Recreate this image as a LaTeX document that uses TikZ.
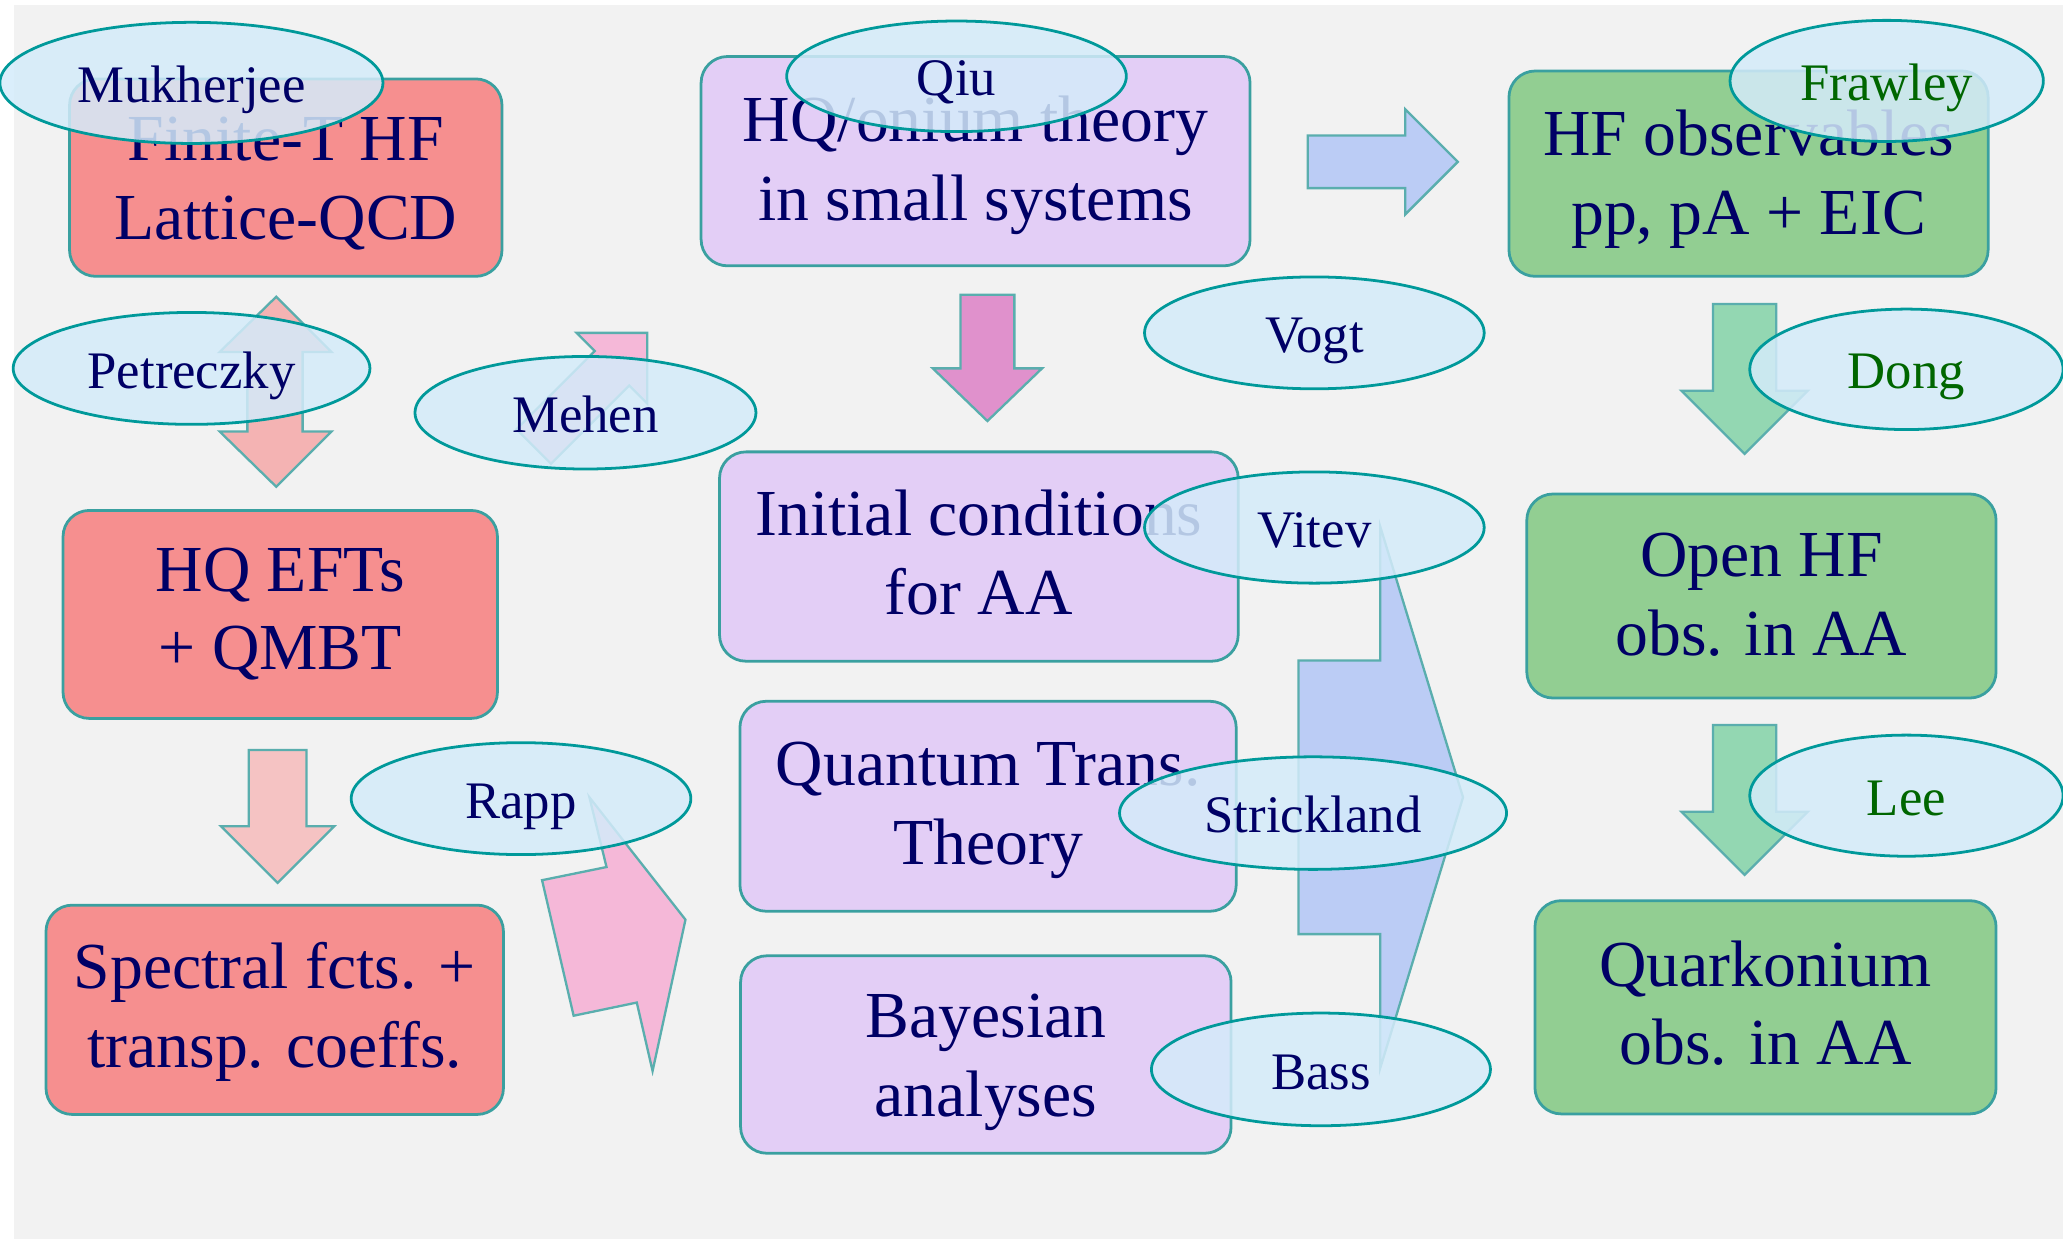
\documentclass[tikz,border=0pt]{standalone}
\usepackage{fontspec}
\setmainfont{Liberation Serif}
\usetikzlibrary{positioning, shapes.geometric}

\definecolor{bggray}{HTML}{F2F2F2}
\definecolor{navytext}{HTML}{000066}
\definecolor{greentext}{HTML}{006600}
\definecolor{redfill}{HTML}{F68F8F}
\definecolor{lilacfill}{HTML}{E3CEF6}
\definecolor{greenfill}{HTML}{92CE92}
\definecolor{boxline}{HTML}{3AA0A0}
\definecolor{ellfill}{HTML}{D4EBFA}
\definecolor{ellline}{HTML}{00999A}
\definecolor{arrline}{HTML}{5AAEAE}
\definecolor{redarrow}{HTML}{F4B3B3}
\definecolor{paleredarrow}{HTML}{F5C3C3}
\definecolor{pinkarrow}{HTML}{F5B8D8}
\definecolor{magentaarrow}{HTML}{E091CC}
\definecolor{bluearrow}{HTML}{BBCCF5}
\definecolor{greenarrow}{HTML}{93D7B2}

\begin{document}
\begin{tikzpicture}[
    x=0.01cm, y=-0.01cm, % one unit = one pixel of the slide, y runs downwards
    topicbox/.style={draw=boxline, line width=0.6pt, rounded corners=0.2cm, align=center, inner sep=0pt, text=navytext, font=\fontsize{14.2}{17}\selectfont, text height=#1, text depth=0pt},
    topicbox/.default=25pt, % twice the drop of the last baseline below the centre
    redbox/.style={topicbox=#1, fill=redfill},
    redbox/.default=25pt,
    lilacbox/.style={topicbox=#1, fill=lilacfill},
    lilacbox/.default=25pt,
    greenbox/.style={topicbox=#1, fill=greenfill},
    greenbox/.default=25pt,
    person/.style={ellipse, draw=ellline, line width=0.6pt, fill=ellfill, fill opacity=0.85, text opacity=1, inner sep=0pt, text=navytext, font=\fontsize{11.4}{13}\selectfont, text height=8.5pt, text depth=0pt},
    greenperson/.style={person, text=greentext},
    blockarrow/.style={draw=arrline, line width=0.5pt, line join=miter}
]

\useasboundingbox (0,0) rectangle (1568,942);
\fill[bggray] (10.6,3.8) rectangle (1568,942);

% Left column: lattice / EFT / spectral functions
\node (fin) [redbox=26.8pt, minimum width=3.285cm, minimum height=1.50cm] at (217.2,135) {Finite-T HF\\Lattice-QCD};
\node (eft) [redbox=24pt, minimum width=3.30cm, minimum height=1.58cm] at (213,467) {HQ EFTs\\+ QMBT};
\node (spec) [redbox, minimum width=3.475cm, minimum height=1.59cm] at (208.8,767.5) {Spectral fcts. +\\transp. coeffs.};

% Middle column: theory in small systems and AA
\node (hqo) [lilacbox=25.6pt, minimum width=4.17cm, minimum height=1.59cm] at (741.5,122.5) {HQ/onium theory\\in small systems};
\node (init) [lilacbox, minimum width=3.94cm, minimum height=1.59cm] at (744,423) {Initial conditions\\for AA};
\node (qtt) [lilacbox, minimum width=3.77cm, minimum height=1.595cm] at (751,612.8) {Quantum Trans.\\Theory};
\node (bay) [lilacbox=26.8pt, minimum width=3.726cm, minimum height=1.50cm] at (749.3,801.5) {Bayesian\\analyses};

% Right column: observables
\node (hfo) [greenbox=26.1pt, minimum width=3.64cm, minimum height=1.56cm] at (1329,132) {HF observables\\pp, pA + EIC};
\node (open) [greenbox=25.6pt, minimum width=3.565cm, minimum height=1.55cm] at (1338.8,453) {Open HF\\obs. in AA};
\node (quark) [greenbox=24.8pt, minimum width=3.503cm, minimum height=1.62cm] at (1341.9,765.6) {Quarkonium\\obs. in AA};

% Block arrows
\draw[blockarrow, fill=redarrow] (210,225.5) -- (252,267.5) -- (230,267.5) -- (230,328) -- (252,328) -- (210,370) -- (167,328) -- (188,328) -- (188,267.5) -- (167,267.5) -- cycle;
\draw[blockarrow, fill=paleredarrow] (189,570) -- (233,570) -- (233,628) -- (254,628) -- (211,671) -- (168,628) -- (189,628) -- cycle;
\draw[blockarrow, fill=pinkarrow] (492,253) -- (492,306.8) -- (478.2,293) -- (418.8,352.4) -- (392.6,326.2) -- (452,266.8) -- (438.2,253) -- cycle;
\draw[blockarrow, fill=pinkarrow] (448,606) -- (521,699) -- (496,814) -- (484,762) -- (436,772) -- (412,669) -- (461,659) -- cycle;
\draw[blockarrow, fill=magentaarrow] (730,224) -- (771,224) -- (771,280) -- (792,280) -- (750.5,320) -- (709,280) -- (730,280) -- cycle;
\draw[blockarrow, fill=bluearrow] (994,103) -- (1068,103) -- (1068,83) -- (1108,123) -- (1068,163) -- (1068,143) -- (994,143) -- cycle;
\draw[blockarrow, fill=bluearrow] (987,502) -- (1049,502) -- (1049,400) -- (1112,606) -- (1049,812) -- (1049,710) -- (987,710) -- cycle;
\draw[blockarrow, fill=greenarrow] (1302,231) -- (1350,231) -- (1350,297) -- (1374,297) -- (1326,345) -- (1278,297) -- (1302,297) -- cycle;
\draw[blockarrow, fill=greenarrow] (1302,551) -- (1350,551) -- (1350,617) -- (1374,617) -- (1326,665) -- (1278,617) -- (1302,617) -- cycle;

% Names
\node (muk) [person, minimum width=2.91cm, minimum height=0.92cm] at (145.5,63) {Mukherjee};
\node (qiu) [person, minimum width=2.58cm, minimum height=0.84cm] at (727,58) {Qiu};
\node (fraw) [greenperson, minimum width=2.38cm, minimum height=0.92cm] at (1434,61.5) {Frawley};
\node (pet) [person, minimum width=2.71cm, minimum height=0.85cm] at (145.6,280) {Petreczky};
\node (meh) [person, minimum width=2.59cm, minimum height=0.855cm] at (445,313.7) {Mehen};
\node (vogt) [person, minimum width=2.58cm, minimum height=0.85cm] at (999,253) {Vogt};
\node (vit) [person, minimum width=2.58cm, minimum height=0.845cm, below=6.1mm of vogt] {Vitev};
\node (dong) [greenperson, minimum width=2.38cm, minimum height=0.915cm] at (1449,280.7) {Dong};
\node (lee) [greenperson, minimum width=2.38cm, minimum height=0.92cm, below=2.3cm of dong] {Lee};
\node (rapp) [person, minimum width=2.58cm, minimum height=0.85cm] at (396,607) {Rapp};
\node (strick) [person, minimum width=2.94cm, minimum height=0.855cm] at (998,618) {Strickland};
\node (bass) [person, minimum width=2.575cm, minimum height=0.856cm] at (1004,812.8) {Bass};

\end{tikzpicture}
\end{document}
